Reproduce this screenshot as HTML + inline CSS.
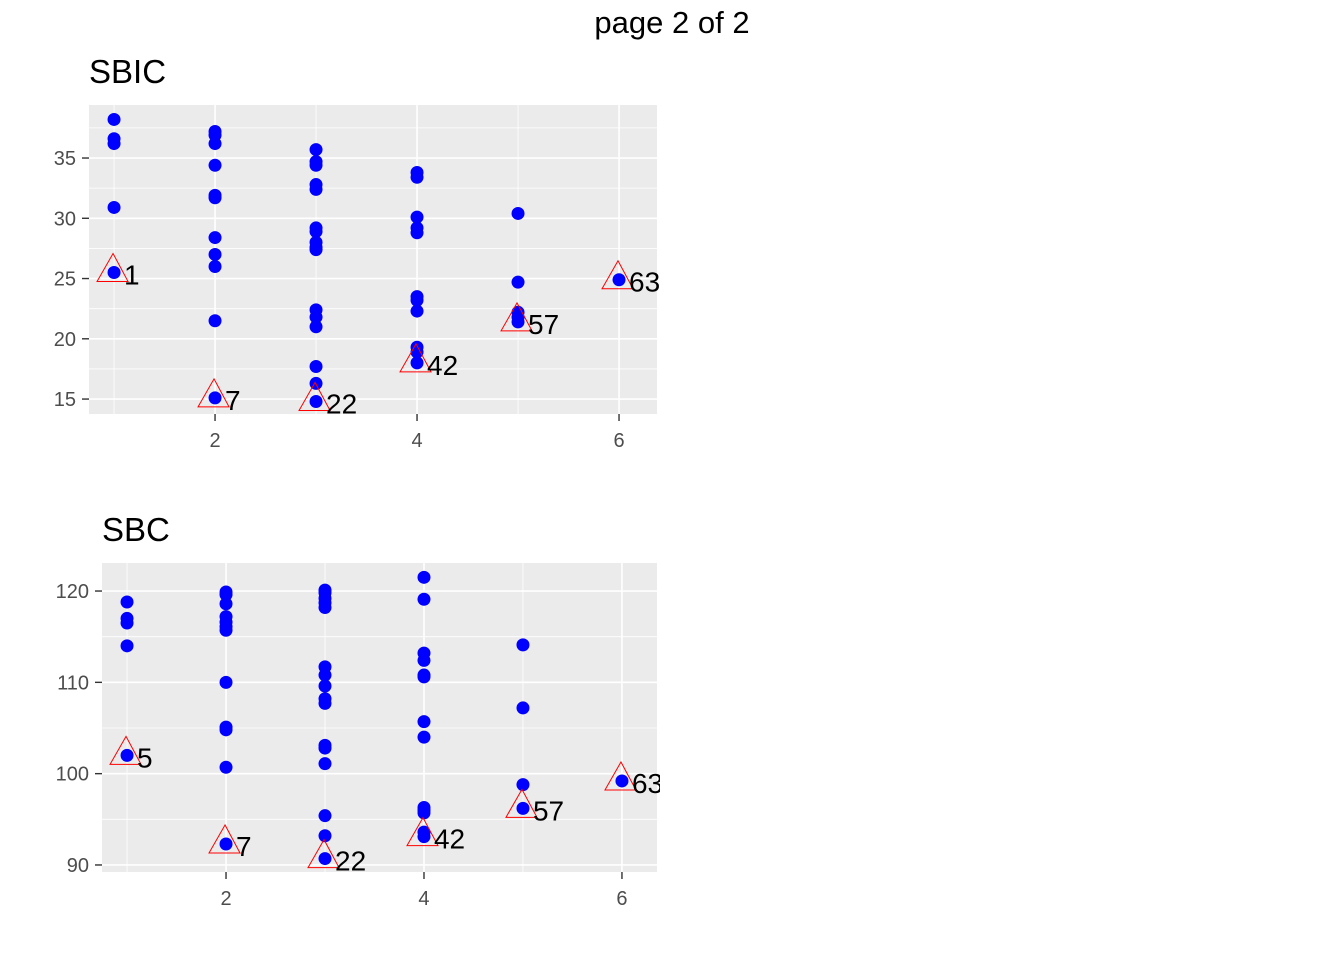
<!DOCTYPE html>
<html><head><meta charset="utf-8"><style>
html,body{margin:0;padding:0;background:#fff;}
svg{display:block;font-family:"Liberation Sans",Arial,sans-serif;}
</style></head><body>
<svg id="chart" width="1344" height="960" viewBox="0 0 1344 960">
<text x="672" y="33" text-anchor="middle" font-size="31" fill="#000">page 2 of 2</text>
</svg>
<script>
// ---- SBIC panel data ----
const sbicX = [1,1,1,1,1, 2,2,2,2,2,2,2,2,2,2,2, 3,3,3,3,3,3,3,3,3,3,3,3,3,3,3,3, 4,4,4,4,4,4,4,4,4,4,4, 5,5,5,5,5, 6];
const sbicY = [38.2,36.6,36.2,30.9,25.5, 37.2,36.9,36.2,34.4,31.9,31.7,28.4,27.0,26.0,21.5,15.1, 35.7,34.7,34.4,32.8,32.4,29.2,28.9,28.0,27.6,27.4,22.4,21.8,21.0,17.7,16.3,14.8, 33.8,33.4,30.1,29.2,28.8,23.5,23.2,22.3,19.3,18.9,18.0, 30.4,24.7,22.2,21.8,21.4, 24.9];
const sbicFlagX = [1,2,3,4,5,6];
const sbicFlagY = [25.5,15.1,14.8,18.0,21.4,24.9];
const sbicFlagLabels = ["1","7","22","42","57","63"];
const sbicYTicks = [15,20,25,30,35];
const sbicXTicks = [2,4,6];
// ---- SBC panel data ----
const sbcX = [1,1,1,1,1, 2,2,2,2,2,2,2,2,2,2,2,2, 3,3,3,3,3,3,3,3,3,3,3,3,3,3,3,3, 4,4,4,4,4,4,4,4,4,4,4,4,4, 5,5,5,5, 6];
const sbcY = [118.8,117.0,116.5,114.0,102.0, 119.9,119.6,118.6,117.2,116.6,116.1,115.7,110.0,105.1,104.8,100.7,92.3, 120.1,119.8,119.2,118.7,118.2,111.7,110.8,109.6,108.2,107.7,103.1,102.8,101.1,95.4,93.2,90.7, 121.5,119.1,113.2,112.4,110.8,110.6,105.7,104.0,96.3,96.0,95.7,93.6,93.1, 114.1,107.2,98.8,96.2, 99.2];
const sbcFlagX = [1,2,3,4,5,6];
const sbcFlagY = [102.0,92.3,90.7,93.1,96.2,99.2];
const sbcFlagLabels = ["5","7","22","42","57","63"];
const sbcYTicks = [90,100,110,120];
const sbcXTicks = [2,4,6];

const NS = "http://www.w3.org/2000/svg";
const svg = document.getElementById('chart');
function mk(tag, attrs, parent){
  const e = document.createElementNS(NS, tag);
  for (const k in attrs) e.setAttribute(k, attrs[k]);
  (parent||svg).appendChild(e);
  return e;
}
function panel(cfg){
  const g = mk('g', {});
  
  
  const sx = v => cfg.left + (v - cfg.xmin) / (cfg.xmax - cfg.xmin) * (cfg.right - cfg.left);
  const sy = v => cfg.bottom - (v - cfg.ymin) / (cfg.ymax - cfg.ymin) * (cfg.bottom - cfg.top);
  const t = mk('text', {x: cfg.left, y: cfg.top - 22, 'font-size': 33, fill: '#000'}, g);
  t.textContent = cfg.title;
  
  
  const bg = mk('rect', {x: cfg.left, y: cfg.top, width: cfg.right - cfg.left, height: cfg.bottom - cfg.top, fill: '#ebebeb'}, g);
  
  
  const yt = cfg.yTicks, step = yt[1] - yt[0];
  for (let v = yt[0] - step / 2; v <= cfg.ymax; v += step) {
    if (v < cfg.ymin) continue;
    mk('line', {x1: cfg.left, x2: cfg.right, y1: sy(v), y2: sy(v), stroke: '#fff', 'stroke-width': 0.8}, g);
  }
  for (let v = 1; v <= 6; v += 2) mk('line', {x1: sx(v), x2: sx(v), y1: cfg.top, y2: cfg.bottom, stroke: '#fff', 'stroke-width': 0.8}, g);
  yt.forEach(v => {
    const y = sy(v);
    mk('line', {x1: cfg.left, x2: cfg.right, y1: y, y2: y, stroke: '#fff', 'stroke-width': 1.6}, g);
    mk('line', {x1: cfg.left - 7, x2: cfg.left, y1: y, y2: y, stroke: '#333', 'stroke-width': 1.4}, g);
    const l = mk('text', {x: cfg.left - 13, y: y + 7, 'text-anchor': 'end', 'font-size': 20, fill: '#4d4d4d'}, g);
    l.textContent = v;
    
    
  });
  cfg.xTicks.forEach(v => {
    const x = sx(v);
    mk('line', {x1: x, x2: x, y1: cfg.top, y2: cfg.bottom, stroke: '#fff', 'stroke-width': 1.6}, g);
    mk('line', {x1: x, x2: x, y1: cfg.bottom, y2: cfg.bottom + 7, stroke: '#333', 'stroke-width': 1.4}, g);
    const l = mk('text', {x: x, y: cfg.bottom + 33, 'text-anchor': 'middle', 'font-size': 20, fill: '#4d4d4d'}, g);
    l.textContent = v;
    
    
  });
  cfg.xs.forEach((v, i) => {
    const c = mk('circle', {cx: sx(v), cy: sy(cfg.ys[i]), r: 6.5, fill: '#0000ff'}, g);
    
    
  });
  cfg.fx.forEach((v, i) => {
    const x = sx(v), y = sy(cfg.fy[i]);
    const tri = mk('polygon', {points: `${x-1},${y-19} ${x-17},${y+9} ${x+14},${y+9}`, fill: 'none', stroke: '#ff0000', 'stroke-width': 1}, g);
    
    
  });
  const clip = mk('clipPath', {id: cfg.name + 'clip'}, g);
  mk('rect', {x: 0, y: 0, width: cfg.right + 3, height: 960}, clip);
  cfg.fx.forEach((v, i) => {
    const x = sx(v), y = sy(cfg.fy[i]);
    const l = mk('text', {x: x + 10, y: y + 12, 'font-size': 28, fill: '#000', 'clip-path': `url(#${cfg.name}clip)`}, g);
    l.textContent = cfg.fl[i];
    
    
  });
}
panel({name: 'sbic', title: 'SBIC', left: 89, right: 657, top: 105, bottom: 414,
  xmin: 0.752, xmax: 6.376, ymin: 13.76, ymax: 39.4,
  xs: sbicX, ys: sbicY, fx: sbicFlagX, fy: sbicFlagY, fl: sbicFlagLabels, yTicks: sbicYTicks, xTicks: sbicXTicks});
panel({name: 'sbc', title: 'SBC', left: 102, right: 657, top: 563, bottom: 872,
  xmin: 0.747, xmax: 6.354, ymin: 89.23, ymax: 123.07,
  xs: sbcX, ys: sbcY, fx: sbcFlagX, fy: sbcFlagY, fl: sbcFlagLabels, yTicks: sbcYTicks, xTicks: sbcXTicks});
</script>
</body></html>
